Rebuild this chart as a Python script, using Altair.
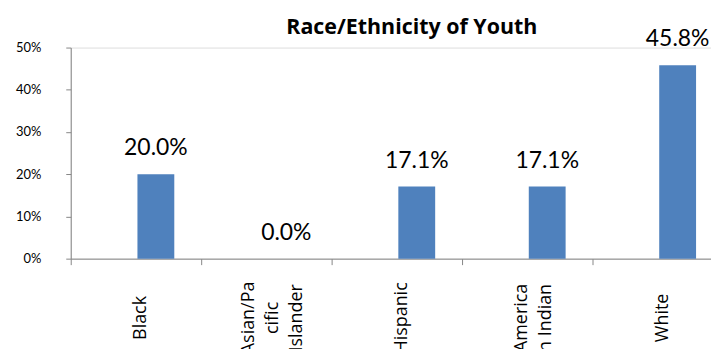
import altair as alt
import pandas as pd

categories = ["Black", "Asian/Pa|cific|Islander", "Hispanic", "America|n Indian", "White"]
values = [0.200, 0.000, 0.171, 0.171, 0.458]
value_labels = ["20.0%", "0.0%", "17.1%", "17.1%", "45.8%"]
y_ticks = [0, 0.1, 0.2, 0.3, 0.4, 0.5]

df = pd.DataFrame({"cat": categories, "val": values, "lab": value_labels})

axis_gray = "#868686"

x_enc = alt.X(
    "cat:N",
    sort=categories,
    scale=alt.Scale(paddingInner=0, paddingOuter=0),
    axis=alt.Axis(
        title=None,
        labelExpr="split(datum.label, '|')",
        labelAngle=-90,
        labelAlign="center",
        labelBaseline="middle",
        labelFont="Open Sans",
        labelFontSize=18,
        labelLineHeight=24,
        labelColor="#000000",
        labelPadding=53,
        labelOffset={
            "condition": [
                {"test": "length(split(datum.value, '|')) == 3", "value": -18},
                {"test": "length(split(datum.value, '|')) == 2", "value": -6},
            ],
            "value": 5,
        },
        tickBand="extent",
        tickSize=6,
        tickColor=axis_gray,
        domainColor=axis_gray,
        labelOverlap=False,
    ),
)

y_enc = alt.Y(
    "val:Q",
    scale=alt.Scale(domain=[0, 0.5], nice=False),
    axis=alt.Axis(
        title=None,
        values=y_ticks,
        format=".0%",
        labelFont="Lato",
        labelFontSize=13,
        labelColor="#000000",
        labelPadding=25,
        tickSize=5,
        tickColor=axis_gray,
        domainColor=axis_gray,
        grid=False,
    ),
)

base = alt.Chart(df).encode(x=x_enc, y=y_enc)

bars = base.mark_bar(color="#4F81BD", width=37, xOffset=20)
texts = base.mark_text(
    font="Lato", fontSize=23, color="#000000", dy=-26, xOffset=20, baseline="middle"
).encode(text="lab:N")

chart = (
    alt.layer(bars, texts)
    .properties(
        width=655,
        height=212,
        title=alt.TitleParams(
            "Race/Ethnicity of Youth",
            font="Open Sans",
            fontSize=21.5,
            fontWeight="bold",
            color="#000000",
            offset=-10,
            dx=15,
            anchor="middle",
        ),
        autosize=alt.AutoSizeParams(type="none"),
        padding={"left": 63, "top": 39, "right": -12, "bottom": 90},
    )
    .configure_view(stroke=None)
    .configure(background="#ffffff")
)

chart.save("out.html", embed_options={"renderer": "svg", "actions": False})
